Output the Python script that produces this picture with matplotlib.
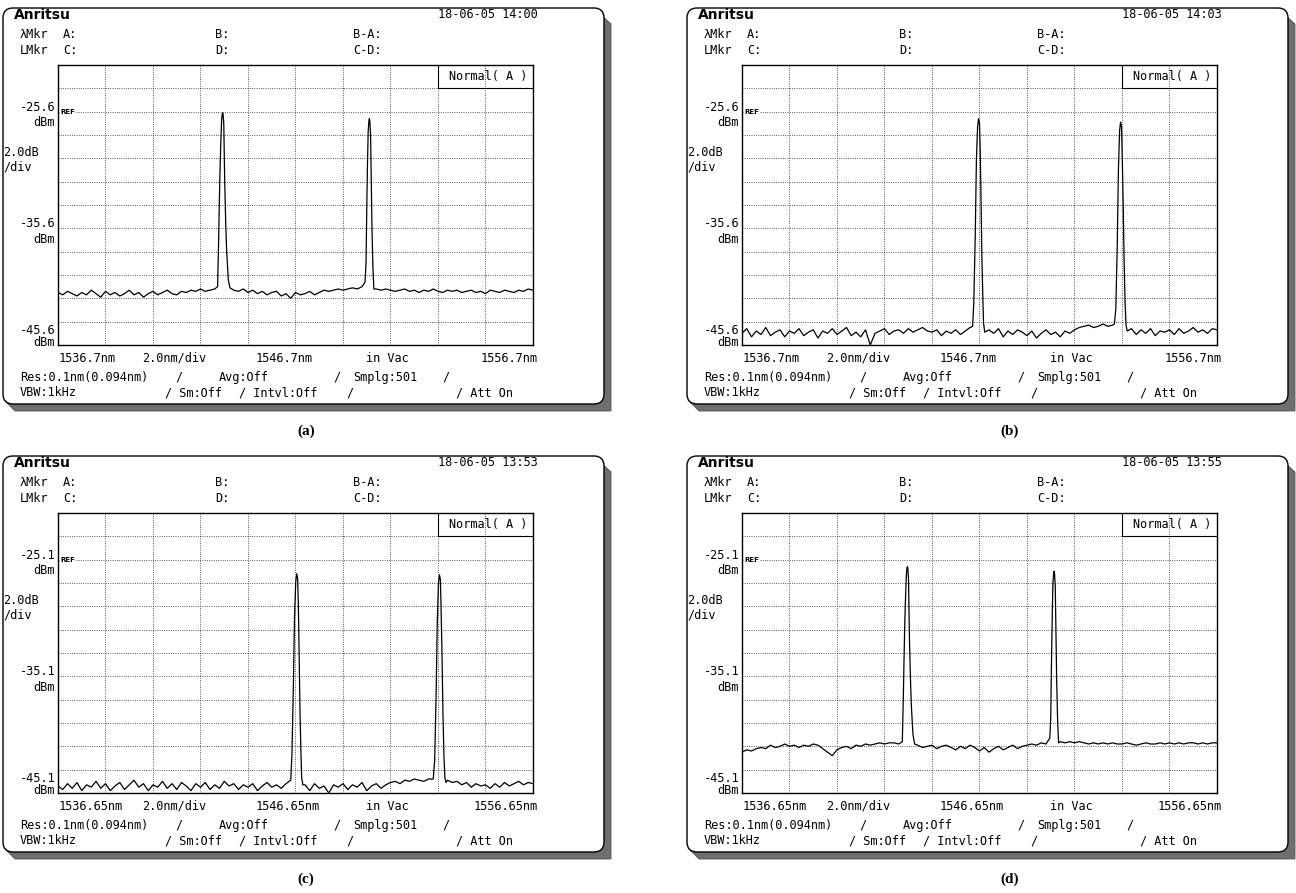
import numpy as np
import matplotlib
matplotlib.use('Agg')
import matplotlib.pyplot as plt
from matplotlib.patches import FancyBboxPatch, Polygon

# ------------------------------------------------------------------ data
captions = ['(a)', '(b)', '(c)', '(d)']
timestamps = ['18-06-05 14:00', '18-06-05 14:03', '18-06-05 13:53', '18-06-05 13:55']
x_start = [1536.7, 1536.7, 1536.65, 1536.65]
x_span = 20.0
x_div = 2.0
ref_level = [-25.6, -25.6, -25.1, -25.1]
db_div = 2.0
x_tick_labels = [['1536.7nm', '1546.7nm', '1556.7nm'],
                 ['1536.7nm', '1546.7nm', '1556.7nm'],
                 ['1536.65nm', '1546.65nm', '1556.65nm'],
                 ['1536.65nm', '1546.65nm', '1556.65nm']]
y_tick_labels = [['-25.6', '-35.6', '-45.6'],
                 ['-25.6', '-35.6', '-45.6'],
                 ['-25.1', '-35.1', '-45.1'],
                 ['-25.1', '-35.1', '-45.1']]

# noise floor samples (dBm), evenly spaced over the 20 nm span
noise_a = [-41.1, -41.3, -41.0, -41.2, -41.4, -41.1, -41.3, -40.9, -41.2, -41.5,
           -41.0, -41.3, -41.1, -41.4, -41.2, -40.9, -41.3, -41.1, -41.5, -41.2,
           -41.0, -41.3, -41.1, -40.9, -41.2, -41.3, -41.0, -41.1, -40.9, -41.0,
           -40.8, -41.0, -40.9, -40.8, -40.8, -40.8, -40.9, -40.9, -41.0, -40.8,
           -41.1, -40.9, -41.2, -41.0, -41.3, -41.1, -41.0, -41.4, -41.2, -41.6,
           -41.1, -41.3, -41.2, -41.0, -41.3, -41.1, -40.9, -41.0, -40.9, -40.8,
           -40.9, -40.8, -40.7, -40.8, -40.6, -40.7, -40.8, -40.8, -40.9, -40.8,
           -40.9, -41.0, -40.9, -40.8, -41.0, -40.9, -41.1, -40.9, -41.0, -40.8,
           -41.0, -41.1, -40.9, -41.0, -40.9, -41.1, -41.0, -40.9, -41.1, -41.0,
           -41.2, -40.9, -41.0, -41.1, -40.9, -41.0, -41.1, -40.9, -41.0, -40.8, -40.9]
noise_b = [-44.6, -44.2, -44.9, -44.4, -44.7, -44.1, -44.8, -44.5, -44.3, -44.9,
           -44.4, -44.6, -44.2, -44.8, -44.5, -44.3, -45.0, -44.4, -44.6, -44.2,
           -44.7, -44.4, -44.1, -44.8, -44.5, -44.9, -44.3, -45.6, -44.6, -44.4,
           -44.2, -44.7, -44.4, -44.3, -44.6, -44.2, -44.5, -44.3, -44.1, -44.4,
           -44.5, -44.3, -44.8, -44.4, -44.6, -44.3, -44.7, -44.4, -44.1, -43.9,
           -44.5, -44.8, -44.3, -44.6, -44.2, -44.9, -44.4, -44.7, -44.3, -44.5,
           -44.8, -44.4, -45.0, -44.6, -44.3, -44.7, -44.5, -44.9, -44.4, -44.6,
           -44.3, -44.1, -44.0, -43.9, -44.1, -44.0, -43.8, -44.0, -43.9, -44.0,
           -44.1, -44.5, -44.2, -44.7, -44.3, -44.6, -44.2, -44.8, -44.4, -44.5,
           -44.3, -44.7, -44.2, -44.6, -44.4, -44.1, -44.5, -44.3, -44.6, -44.2, -44.3]
noise_c = [-44.5, -44.8, -44.3, -44.7, -44.2, -44.9, -44.4, -44.6, -44.1, -44.7,
           -44.3, -44.9, -44.5, -44.2, -44.8, -44.4, -44.0, -44.6, -44.3, -44.9,
           -44.4, -44.6, -44.1, -44.7, -44.3, -44.8, -44.2, -44.5, -44.9, -44.3,
           -44.6, -44.2, -44.8, -44.4, -44.7, -44.1, -44.5, -44.3, -44.8, -44.4,
           -44.6, -44.3, -44.9, -44.5, -44.2, -44.6, -44.4, -44.7, -44.3, -44.0,
           -44.2, -44.6, -44.4, -44.9, -44.3, -44.7, -44.5, -45.1, -44.4, -44.6,
           -44.3, -44.8, -44.4, -44.6, -44.2, -44.9, -44.5, -44.3, -44.7, -44.4,
           -44.2, -44.1, -44.3, -44.0, -44.1, -43.9, -44.0, -44.1, -43.9, -44.0,
           -44.0, -44.1, -44.0, -44.2, -44.1, -44.4, -44.2, -44.6, -44.3, -44.5,
           -44.4, -44.7, -44.3, -44.6, -44.2, -44.5, -44.3, -44.1, -44.4, -44.2, -44.3]
noise_d = [-41.6, -41.4, -41.5, -41.3, -41.2, -41.3, -41.0, -41.2, -41.1, -40.9,
           -41.1, -41.0, -41.2, -41.0, -41.1, -40.9, -41.0, -41.3, -41.6, -41.9,
           -41.4, -41.2, -41.1, -41.3, -41.0, -41.1, -40.9, -41.0, -40.9, -40.8,
           -40.9, -40.8, -40.8, -40.9, -40.8, -40.8, -40.9, -41.0, -41.2, -41.1,
           -41.0, -41.3, -41.1, -41.0, -41.2, -41.4, -41.1, -41.3, -41.0, -41.2,
           -41.5, -41.2, -41.6, -41.3, -41.1, -41.4, -41.2, -41.0, -41.3, -41.1,
           -41.0, -40.9, -41.0, -40.8, -40.9, -40.8, -40.8, -40.7, -40.8, -40.7,
           -40.8, -40.7, -40.8, -40.9, -40.8, -40.9, -40.8, -40.9, -40.8, -40.9,
           -40.9, -40.8, -40.9, -41.0, -40.9, -40.8, -40.9, -40.9, -40.8, -40.9,
           -40.8, -40.9, -40.8, -40.9, -40.8, -40.8, -40.9, -40.8, -40.9, -40.8, -40.8]

# laser peaks (wavelength nm, power dBm)
peak_a1_wl = [1543.42, 1543.46, 1543.49, 1543.52, 1543.55, 1543.59, 1543.61, 1543.63,
              1543.65, 1543.68, 1543.72, 1543.76, 1543.80, 1543.87, 1543.94]
peak_a1_db = [-40.6, -37.0, -33.7, -30.8, -28.6, -26.3, -25.9, -25.7,
              -25.8, -26.6, -31.7, -35.0, -37.5, -40.0, -40.7]
peak_a2_wl = [1549.63, 1549.67, 1549.70, 1549.73, 1549.76, 1549.79, 1549.81,
              1549.83, 1549.86, 1549.89, 1549.92, 1549.96, 1550.00]
peak_a2_db = [-40.2, -38.5, -34.0, -30.2, -27.3, -26.4, -26.2,
              -26.4, -27.5, -31.5, -35.6, -39.0, -40.8]
peak_b1_wl = [1546.41, 1546.46, 1546.52, 1546.57, 1546.62, 1546.66, 1546.70,
              1546.73, 1546.76, 1546.80, 1546.84, 1546.87, 1546.92]
peak_b1_db = [-44.0, -42.0, -36.3, -29.7, -26.9, -26.2, -26.6,
              -28.9, -32.6, -38.0, -41.5, -43.7, -44.5]
peak_b2_wl = [1552.38, 1552.44, 1552.50, 1552.55, 1552.60, 1552.64, 1552.68,
              1552.71, 1552.75, 1552.79, 1552.83, 1552.87, 1552.92]
peak_b2_db = [-43.8, -42.5, -37.0, -30.5, -27.2, -26.5, -26.9,
              -29.5, -33.5, -38.5, -42.0, -43.9, -44.4]
peak_c1_wl = [1546.45, 1546.50, 1546.56, 1546.61, 1546.66, 1546.70, 1546.74,
              1546.77, 1546.80, 1546.84, 1546.88, 1546.91, 1546.96]
peak_c1_db = [-44.0, -41.8, -36.0, -29.9, -27.0, -26.3, -26.7,
              -29.0, -32.8, -38.2, -41.7, -43.8, -44.4]
peak_c2_wl = [1552.45, 1552.51, 1552.57, 1552.62, 1552.67, 1552.71, 1552.75,
              1552.78, 1552.82, 1552.86, 1552.90, 1552.94, 1552.99]
peak_c2_db = [-43.9, -42.3, -36.8, -30.4, -27.1, -26.4, -26.8,
              -29.3, -33.4, -38.4, -41.9, -43.8, -44.2]
peak_d1_wl = [1543.40, 1543.44, 1543.47, 1543.50, 1543.53, 1543.57, 1543.59, 1543.61,
              1543.63, 1543.66, 1543.70, 1543.74, 1543.78, 1543.85, 1543.92]
peak_d1_db = [-40.7, -37.2, -33.9, -30.9, -28.7, -26.4, -25.9, -25.7,
              -25.8, -26.7, -31.8, -35.1, -37.6, -40.1, -40.9]
peak_d2_wl = [1549.61, 1549.65, 1549.68, 1549.71, 1549.74, 1549.77, 1549.79,
              1549.81, 1549.84, 1549.87, 1549.90, 1549.94, 1549.98]
peak_d2_db = [-40.4, -38.6, -34.1, -30.3, -27.2, -26.3, -26.1,
              -26.3, -27.4, -31.4, -35.5, -39.0, -40.8]

noises = [noise_a, noise_b, noise_c, noise_d]
peaks = [[(peak_a1_wl, peak_a1_db), (peak_a2_wl, peak_a2_db)],
         [(peak_b1_wl, peak_b1_db), (peak_b2_wl, peak_b2_db)],
         [(peak_c1_wl, peak_c1_db), (peak_c2_wl, peak_c2_db)],
         [(peak_d1_wl, peak_d1_db), (peak_d2_wl, peak_d2_db)]]

# ------------------------------------------------------------------ layout
W, H = 1296, 893
MONO = 'DejaVu Sans Mono'
FS = 8.6
offsets = [(0, 0), (684, 0), (0, 448), (684, 448)]
caption_x = [306, 1010, 306, 1010]
PL, PT, PW, PH = 58, 65, 475, 280

fig = plt.figure(figsize=(W / 100, H / 100), dpi=100)
bg = fig.add_axes([0, 0, 1, 1])
bg.set_xlim(0, W)
bg.set_ylim(H, 0)
bg.axis('off')


def build_trace(x0, noise, pk):
    wl = np.linspace(x0, x0 + x_span, len(noise))
    db = np.array(noise, dtype=float)
    keep = np.ones(len(wl), bool)
    for pw, _ in pk:
        keep &= ~((wl >= pw[0]) & (wl <= pw[-1]))
    xs = list(wl[keep])
    ys = list(db[keep])
    for pw, pd in pk:
        xs += list(pw)
        ys += list(pd)
    order = np.argsort(xs)
    return np.array(xs)[order], np.array(ys)[order]


def t(x, y, s, dx, dy, **kw):
    kw.setdefault('family', MONO)
    kw.setdefault('fontsize', FS)
    kw.setdefault('va', 'center')
    kw.setdefault('ha', 'left')
    bg.text(x + dx, y + dy, s, **kw)


for i in range(4):
    dx, dy = offsets[i]
    L, T, R, B = 3 + dx, 8 + dy, 604 + dx, 404 + dy
    # shadow band (right and bottom)
    shadow = Polygon([(R - 4, T + 6), (R + 7, T + 16), (R + 7, B + 7),
                      (L + 12, B + 7), (L + 3, B - 2)], closed=True,
                     facecolor='#6f6f6f', edgecolor='#555555', lw=0.6, zorder=1)
    bg.add_patch(shadow)
    frame = FancyBboxPatch((L, T), R - L, B - T,
                           boxstyle='round,pad=0,rounding_size=10',
                           facecolor='white', edgecolor='black', lw=1.0, zorder=2)
    bg.add_patch(frame)

    # header
    t(14, 15, 'Anritsu', dx, dy, family='DejaVu Sans', fontweight='bold', fontsize=10)
    t(538, 15, timestamps[i], dx, dy, ha='right')
    t(20, 35, 'λMkr', dx, dy)
    t(63, 35, 'A:', dx, dy)
    t(215, 35, 'B:', dx, dy)
    t(353, 35, 'B-A:', dx, dy)
    t(20, 50, 'LMkr', dx, dy)
    t(63, 50, 'C:', dx, dy)
    t(215, 50, 'D:', dx, dy)
    t(353, 50, 'C-D:', dx, dy)

    # y-axis labels
    ref = ref_level[i]
    ymax = ref + 2 * db_div
    ymin = ref - 10 * db_div

    def ypx(v):
        return PT + (ymax - v) / (ymax - ymin) * PH

    yl = y_tick_labels[i]
    t(55, ypx(ref) - 4.5, yl[0], dx, dy, ha='right')
    t(55, ypx(ref) + 11, 'dBm', dx, dy, ha='right')
    t(3, 153, '2.0dB', dx, dy)
    t(3, 167, '/div', dx, dy)
    t(55, ypx(ref - 5 * db_div) - 4.5, yl[1], dx, dy, ha='right')
    t(55, ypx(ref - 5 * db_div) + 11, 'dBm', dx, dy, ha='right')
    t(55, ypx(ymin) - 14, yl[2], dx, dy, ha='right')
    t(55, ypx(ymin) - 2, 'dBm', dx, dy, ha='right')

    # x-axis labels
    xl = x_tick_labels[i]
    t(59, 358, xl[0], dx, dy)
    t(142, 358, '2.0nm/div', dx, dy)
    t(256, 358, xl[1], dx, dy)
    t(366, 358, 'in Vac', dx, dy)
    t(538, 358, xl[2], dx, dy, ha='right')

    # status rows
    t(20, 377, 'Res:0.1nm(0.094nm)', dx, dy)
    t(175, 377, '/', dx, dy)
    t(219, 377, 'Avg:Off', dx, dy)
    t(333, 377, '/', dx, dy)
    t(353, 377, 'Smplg:501', dx, dy)
    t(442, 377, '/', dx, dy)
    t(20, 393, 'VBW:1kHz', dx, dy)
    t(165, 393, '/ Sm:Off', dx, dy)
    t(239, 393, '/ Intvl:Off', dx, dy)
    t(346, 393, '/', dx, dy)
    t(456, 393, '/ Att On', dx, dy)

    # caption
    bg.text(caption_x[i], 431 + dy, captions[i], family='Liberation Serif',
            fontweight='bold', fontsize=11, ha='center', va='center')

    # plot area
    ax = fig.add_axes([(PL + dx) / W, 1 - (PT + dy + PH) / H, PW / W, PH / H])
    x0 = x_start[i]
    ax.set_xlim(x0, x0 + x_span)
    ax.set_ylim(ymin, ymax)
    ax.set_xticks(np.arange(1, 10) * x_div + x0)
    ax.set_yticks(ymin + np.arange(1, 12) * db_div)
    ax.tick_params(length=0, labelbottom=False, labelleft=False)
    ax.grid(True, color='#222222', lw=0.6, linestyle=(0, (1, 1.7)))
    for sp in ax.spines.values():
        sp.set_linewidth(1.0)
        sp.set_color('black')

    wl, db = build_trace(x0, noises[i], peaks[i])
    ax.plot(wl, db, color='black', lw=0.9, zorder=3)

    # Normal( A ) box
    ax.plot([x0 + 8 * x_div, x0 + 8 * x_div], [ymax - db_div, ymax], color='black', lw=0.8)
    ax.plot([x0 + 8 * x_div, x0 + x_span], [ymax - db_div, ymax - db_div], color='black', lw=0.8)
    ax.text(x0 + 9.05 * x_div, ymax - 0.5 * db_div, 'Normal( A )', family=MONO,
            fontsize=FS, ha='center', va='center')

    # REF marker
    ax.annotate('REF', xy=(0, ref), xycoords=('axes fraction', 'data'),
                xytext=(2, 0), textcoords='offset points', fontsize=5,
                fontweight='bold', ha='left', va='center',
                bbox=dict(fc='white', ec='none', pad=0.3))

fig.savefig('out.png', dpi=100)
